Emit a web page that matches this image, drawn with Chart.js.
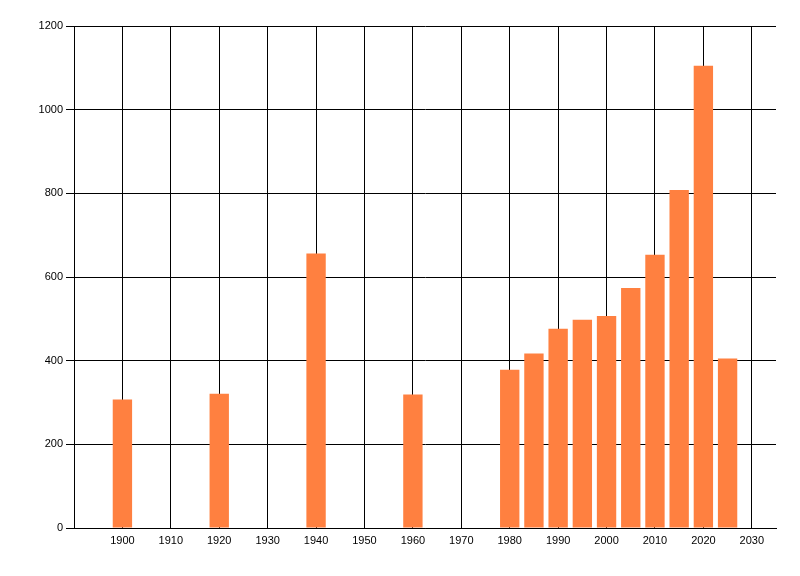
<!DOCTYPE html>
<html lang="en">
<head>
    <meta charset="UTF-8">
    <title>Bar chart</title>
    <style>
        body {
            margin: 0;
            background-color: #ffffff;
        }
        canvas {
            display: block;
        }
    </style>
</head>
<body>
    <canvas id="myChart" width="800" height="576"></canvas>

    <script src="https://cdn.jsdelivr.net/npm/chart.js"></script>
    <script>
        // years and values
        var years = [1900, 1920, 1940, 1960, 1980, 1985, 1990, 1995, 2000, 2005, 2010, 2015, 2020, 2025];
        var values = [307, 321, 656, 319, 378, 417, 476, 498, 507, 574, 653, 808, 1105, 405];
        var xTicks = [1900, 1910, 1920, 1930, 1940, 1950, 1960, 1970, 1980, 1990, 2000, 2010, 2020, 2030];
        var yTicks = [0, 200, 400, 600, 800, 1000, 1200];

        var points = years.map(function (y, i) { return { x: y, y: values[i] }; });

        Chart.defaults.font.family = '"Liberation Sans", Arial, sans-serif';
        Chart.defaults.font.size = 11;
        Chart.defaults.color = '#000000';

        new Chart(document.getElementById('myChart'), {
            type: 'bar',
            data: {
                datasets: [{
                    data: points,
                    backgroundColor: '#ff8040',
                    borderWidth: 0,
                    categoryPercentage: 1.0,
                    barPercentage: 0.8
                }]
            },
            options: {
                responsive: false,
                animation: false,
                devicePixelRatio: 1,
                layout: {
                    padding: { top: 26, right: 24, left: 0, bottom: 0 }
                },
                plugins: {
                    legend: { display: false },
                    tooltip: { enabled: false }
                },
                scales: {
                    x: {
                        type: 'linear',
                        offset: false,
                        min: 1890,
                        max: 2035,
                        afterBuildTicks: function (axis) {
                            axis.ticks = xTicks.map(function (v) { return { value: v }; });
                        },
                        afterFit: function (axis) { axis.height = 48; },
                        ticks: {
                            padding: 6,
                            maxRotation: 0,
                            autoSkip: false,
                            callback: function (v) { return String(v); }
                        },
                        grid: {
                            color: '#000000',
                            lineWidth: 1,
                            drawTicks: false,
                            offset: false
                        },
                        border: { color: '#000000' }
                    },
                    y: {
                        min: 0,
                        max: 1200,
                        afterBuildTicks: function (axis) {
                            axis.ticks = yTicks.map(function (v) { return { value: v }; });
                        },
                        afterFit: function (axis) { axis.width = 74; },
                        ticks: {
                            padding: 3,
                            callback: function (v) { return String(v); }
                        },
                        grid: {
                            color: '#000000',
                            lineWidth: 1,
                            tickLength: 8
                        },
                        border: { color: '#000000' }
                    }
                }
            }
        });
    </script>
</body>
</html>
